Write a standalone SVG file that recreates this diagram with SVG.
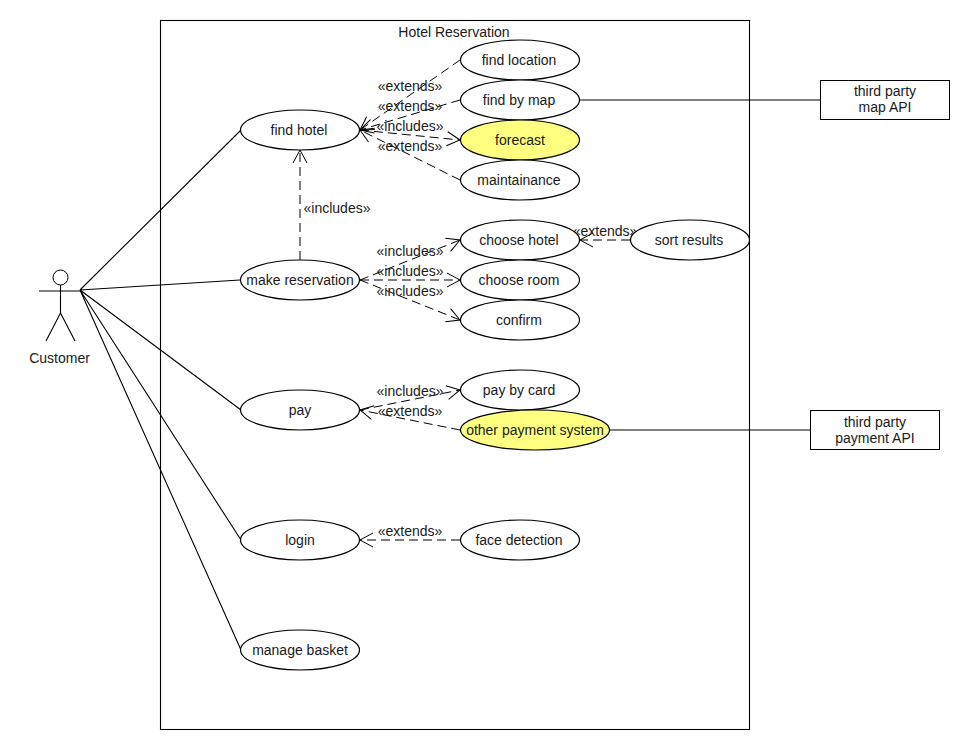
<svg xmlns="http://www.w3.org/2000/svg" width="970" height="750" viewBox="0 0 970 750">
<style>
text{font-family:"Liberation Sans",Arial,sans-serif;font-size:14px;fill:#1a1a1a;text-anchor:middle}
.uc{fill:#fff;stroke:#000;stroke-width:1.2}
.hl{fill:#ffff80}
.box{fill:#fff;stroke:#000;stroke-width:1}
.solid{fill:none;stroke:#000;stroke-width:1.1}
.dep{fill:none;stroke:#000;stroke-width:1;stroke-dasharray:9 5;marker-end:url(#open)}
</style>
<defs>
<marker id="open" markerUnits="userSpaceOnUse" markerWidth="18" markerHeight="20" refX="14" refY="8" orient="auto">
<path d="M1 1L14 8L1 15" fill="none" stroke="#000" stroke-width="1"/>
</marker>
</defs>
<rect width="970" height="750" fill="#fff"/>
<g id="system">
<rect x="160.500" y="20.500" width="589" height="709" fill="#fff" stroke="#000" stroke-width="1.100"/>
<text x="454" y="37">Hotel Reservation</text>
</g>
<g id="connectors">
<path class="solid" d="M80 290L241 130M80 290L240 280M80 290L241 410M80 290L241 540M80 290L241 650M580 100H820M609 430H810"/>
<path class="dep" d="M300 260V150"/>
<path class="dep" d="M460 60L360 130"/>
<path class="dep" d="M460 100L360 130"/>
<path class="dep" d="M360 130L460 140"/>
<path class="dep" d="M460 180L360 130"/>
<path class="dep" d="M360 280L460 240"/>
<path class="dep" d="M360 280H460"/>
<path class="dep" d="M360 280L460 320"/>
<path class="dep" d="M630 240H580"/>
<path class="dep" d="M360 410L460 390"/>
<path class="dep" d="M460 430L360 410"/>
<path class="dep" d="M460 540H360"/>
</g>
<g id="connector-labels">
<text x="410" y="91">«extends»</text>
<text x="410" y="111">«extends»</text>
<text x="410" y="131">«includes»</text>
<text x="410" y="151">«extends»</text>
<text x="337" y="213">«includes»</text>
<text x="410" y="256">«includes»</text>
<text x="410" y="276">«includes»</text>
<text x="410" y="296">«includes»</text>
<text x="605" y="236">«extends»</text>
<text x="410" y="396">«includes»</text>
<text x="410" y="416">«extends»</text>
<text x="410" y="536">«extends»</text>
</g>
<g id="customer">
<circle cx="60.500" cy="277.500" r="7.500" fill="#fff" stroke="#000" stroke-width="1"/>
<path class="solid" d="M60.500 285V313M39 291H81M60.500 313L46 341M60.500 313L75 341"/>
<text x="59.500" y="363">Customer</text>
</g>
<g id="find-hotel"><ellipse class="uc" cx="300" cy="130" rx="59.500" ry="20"/><text x="299" y="135">find hotel</text></g>
<g id="make-reservation"><ellipse class="uc" cx="300" cy="280" rx="59.500" ry="20"/><text x="300" y="285">make reservation</text></g>
<g id="pay"><ellipse class="uc" cx="300" cy="410" rx="59.500" ry="20"/><text x="300" y="415">pay</text></g>
<g id="login"><ellipse class="uc" cx="300" cy="540" rx="59.500" ry="20"/><text x="300" y="545">login</text></g>
<g id="manage-basket"><ellipse class="uc" cx="300" cy="650" rx="59.500" ry="20"/><text x="300" y="655">manage basket</text></g>
<g id="find-location"><ellipse class="uc" cx="520" cy="60" rx="59.500" ry="20"/><text x="519" y="65">find location</text></g>
<g id="find-by-map"><ellipse class="uc" cx="520" cy="100" rx="59.500" ry="20"/><text x="519" y="105">find by map</text></g>
<g id="forecast"><ellipse class="uc hl" cx="520" cy="140" rx="59.500" ry="20"/><text x="520" y="145">forecast</text></g>
<g id="maintainance"><ellipse class="uc" cx="520" cy="180" rx="59.500" ry="20"/><text x="519" y="185">maintainance</text></g>
<g id="choose-hotel"><ellipse class="uc" cx="520" cy="240" rx="59.500" ry="20"/><text x="519" y="245">choose hotel</text></g>
<g id="choose-room"><ellipse class="uc" cx="520" cy="280" rx="59.500" ry="20"/><text x="519" y="285">choose room</text></g>
<g id="confirm"><ellipse class="uc" cx="520" cy="320" rx="59.500" ry="20"/><text x="519" y="325">confirm</text></g>
<g id="sort-results"><ellipse class="uc" cx="690" cy="240" rx="59.500" ry="20"/><text x="689" y="245">sort results</text></g>
<g id="pay-by-card"><ellipse class="uc" cx="520" cy="390" rx="59.500" ry="20"/><text x="519" y="395">pay by card</text></g>
<g id="other-payment-system"><ellipse class="uc hl" cx="535" cy="430" rx="74.500" ry="20"/><text x="535" y="435">other payment system</text></g>
<g id="face-detection"><ellipse class="uc" cx="520" cy="540" rx="59.500" ry="20"/><text x="519" y="545">face detection</text></g>
<g id="map-api"><rect class="box" x="820.500" y="80.500" width="129" height="39"/><text x="885" y="96">third party</text><text x="885" y="112">map API</text></g>
<g id="payment-api"><rect class="box" x="810.500" y="410.500" width="129" height="39"/><text x="875" y="427">third party</text><text x="875" y="443">payment API</text></g>
</svg>
